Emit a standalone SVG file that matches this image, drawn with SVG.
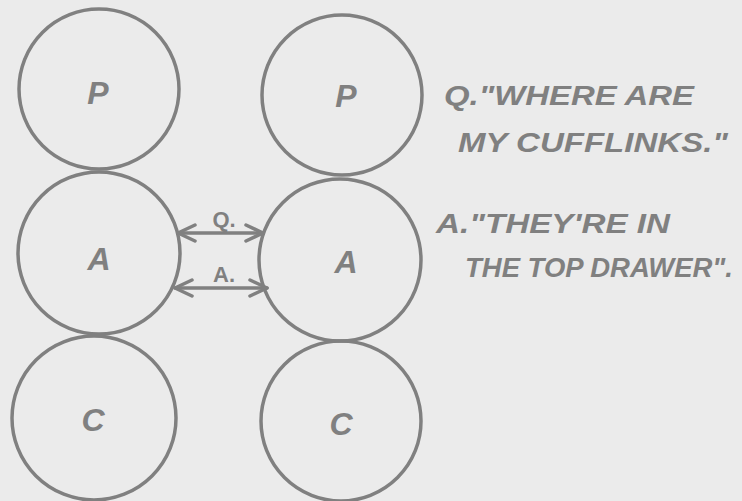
<svg xmlns="http://www.w3.org/2000/svg" width="742" height="501" viewBox="0 0 742 501">
<defs>
<style>
.node{fill:none;stroke:#808080;stroke-width:3.5}
.lbl{font-family:"Liberation Sans",Arial,sans-serif;font-size:32px;fill:#808080;text-anchor:middle;font-style:italic;font-weight:bold}
.txt{font-family:"Liberation Sans",Arial,sans-serif;font-size:27px;fill:#808080;font-style:italic;font-weight:bold}
.small{font-family:"Liberation Sans",Arial,sans-serif;font-size:22px;fill:#808080;text-anchor:middle;font-weight:bold}
.conn{stroke:#808080;stroke-width:3.5;fill:none;stroke-linecap:round;stroke-linejoin:round}
</style>
<marker id="ah" viewBox="0 0 22 22" refX="20" refY="11" markerWidth="22" markerHeight="22" markerUnits="userSpaceOnUse" orient="auto-start-reverse">
<path d="M3,3 L20,11 L3,19" fill="none" stroke="#808080" stroke-width="3.5" stroke-linecap="round" stroke-linejoin="round"/>
</marker>
</defs>
<rect width="742" height="501" fill="#ebebeb"/>
<g id="p1"><circle class="node" cx="99" cy="89" r="80"/><text class="lbl" x="98" y="104">P</text></g>
<g id="a1"><circle class="node" cx="99" cy="253" r="81"/><text class="lbl" x="99" y="270">A</text></g>
<g id="c1"><circle class="node" cx="94" cy="418" r="82"/><text class="lbl" x="93" y="431">C</text></g>
<g id="p2"><circle class="node" cx="342" cy="95" r="80"/><text class="lbl" x="346" y="107">P</text></g>
<g id="a2"><circle class="node" cx="340" cy="260" r="81"/><text class="lbl" x="346" y="273">A</text></g>
<g id="c2"><circle class="node" cx="341" cy="421" r="80"/><text class="lbl" x="341" y="435">C</text></g>
<g id="connectors">
<path class="conn" d="M178,233 L263,233" marker-start="url(#ah)" marker-end="url(#ah)"/>
<path class="conn" d="M175,288 L267,288" marker-start="url(#ah)" marker-end="url(#ah)"/>
<text class="small" x="224" y="227">Q.</text>
<text class="small" x="224" y="282">A.</text>
</g>
<g id="notes">
<text class="txt" x="444" y="105" textLength="250" lengthAdjust="spacingAndGlyphs">Q."WHERE ARE</text>
<text class="txt" x="458" y="152" textLength="270" lengthAdjust="spacingAndGlyphs">MY CUFFLINKS."</text>
<text class="txt" x="436" y="233" textLength="234" lengthAdjust="spacingAndGlyphs">A."THEY'RE IN</text>
<text class="txt" x="465" y="277" textLength="268" lengthAdjust="spacingAndGlyphs">THE TOP DRAWER".</text>
</g>
</svg>
